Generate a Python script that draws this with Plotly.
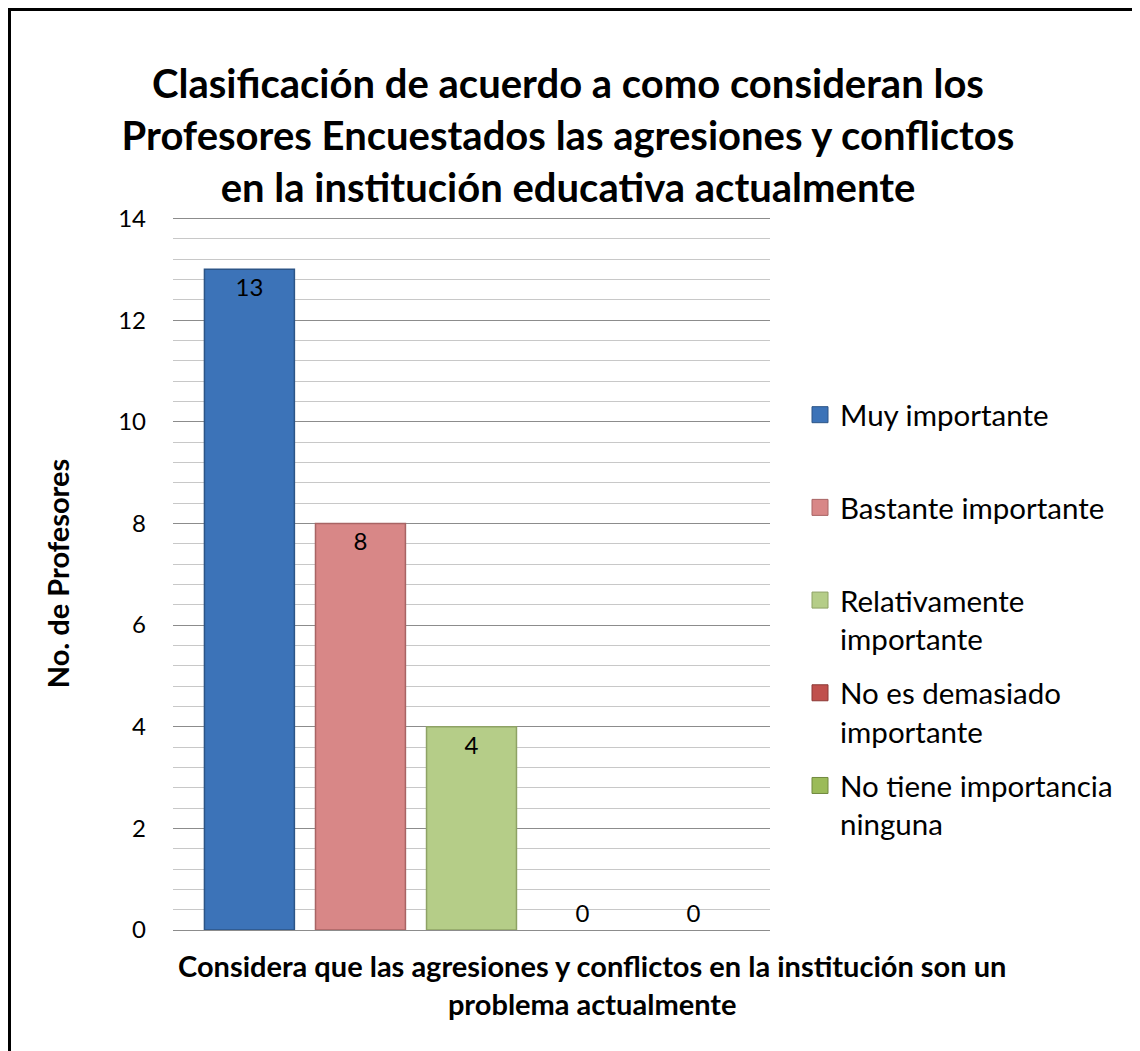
import plotly.graph_objects as go

categories = ["Considera que las agresiones y conflictos en la institución son un problema actualmente"]
series_names = ["Muy importante", "Bastante importante", "Relativamente<br>importante",
                "No es demasiado<br>importante", "No tiene importancia<br>ninguna"]
series_values = [13, 8, 4, 0, 0]
bar_colors = ["#3c73b8", "#d88787", "#b5cd88", "#c0504d", "#9bbb59"]
line_colors = ["#2c5587", "#a86464", "#8ea265", "#8c3836", "#71893f"]

# figure is drawn inside an 8px body margin of the page
W, H = 1132, 1043
ml, mr, mt, mb = 165, 370, 209, 121
pw, ph = W - ml - mr, H - mt - mb
px = lambda fx: (fx - ml) / pw
py = lambda fy: (H - mb - fy) / ph

FONT = "Lato"

fig = go.Figure()
for name, v, c, lc in zip(series_names, series_values, bar_colors, line_colors):
    fig.add_trace(go.Bar(
        x=[categories[0]], y=[v], name=name, showlegend=False,
        marker=dict(color=c, line=dict(color=lc, width=1.5 if v > 0 else 0)),
        text=[str(v)], textposition="inside" if v > 0 else "outside",
        insidetextanchor="end",
        textfont=dict(family=FONT, size=24, color="black"),
        cliponaxis=False,
    ))
# legend entries (square swatches)
for name, c, lc in zip(series_names, bar_colors, line_colors):
    label = name if "<br>" in name else name + "<br>&nbsp;"
    fig.add_trace(go.Scatter(
        x=[categories[0]], y=[None], mode="markers", name=label, legendgroup=name,
        marker=dict(symbol="square", size=16, color=c, line=dict(color=lc, width=1)),
        hoverinfo="skip",
    ))

fig.update_layout(
    width=W, height=H,
    margin=dict(l=ml, r=mr, t=mt, b=mb),
    paper_bgcolor="white", plot_bgcolor="white",
    barmode="group", bargap=0.07, bargroupgap=0.19,
    font=dict(family=FONT, color="black"),
    title=dict(
        text="Clasificación de acuerdo a como consideran los<br>Profesores Encuestados las agresiones y conflictos<br>en la institución educativa actualmente",
        font=dict(family=FONT, size=40, color="black", weight="bold"),
        x=560 / W, xref="container", xanchor="center", y=1 - 90 / H, yanchor="top",
    ),
    showlegend=True,
    legend=dict(
        x=px(792), xanchor="left", y=py(381), yanchor="top",
        font=dict(family=FONT, size=29.5, color="black"),
        traceorder="grouped", tracegroupgap=13, valign="top",
        itemsizing="trace", bgcolor="rgba(0,0,0,0)",
    ),
    xaxis=dict(
        showticklabels=False, showline=True, linecolor="#8c8c8c", linewidth=1,
    ),
    yaxis=dict(
        range=[0, 14.03], dtick=2, tick0=0,
        showgrid=True, gridcolor="#8c8c8c", gridwidth=1,
        minor=dict(dtick=0.4, showgrid=True, gridcolor="#c8c8c8", gridwidth=1),
        zeroline=False, showline=False,
        ticks="", ticklabelstandoff=26,
        tickfont=dict(family=FONT, size=24, color="black"),
        title=dict(text="<b>No. de Profesores</b>", font=dict(family=FONT, size=29, color="black"), standoff=40),
    ),
)

# x axis title (centred on the chart frame, as in the original)
fig.add_annotation(
    text="<b>Considera que las agresiones y conflictos en la institución son un<br>problema actualmente</b>",
    xref="paper", yref="paper", x=px(584), y=py(976), xanchor="center", yanchor="middle",
    showarrow=False, font=dict(family=FONT, size=29, color="black"),
)

# chart frame
fig.add_shape(type="line", xref="paper", yref="paper", x0=px(1.5), x1=px(1.5), y0=py(H + 5), y1=py(1.5),
              line=dict(color="black", width=3))
fig.add_shape(type="line", xref="paper", yref="paper", x0=px(0), x1=px(1130), y0=py(1.5), y1=py(1.5),
              line=dict(color="black", width=3))
fig.add_shape(type="line", xref="paper", yref="paper", x0=px(1130), x1=px(1130), y0=py(H + 5), y1=py(1.5),
              line=dict(color="#555555", width=2))

fig.write_html("out.html")
